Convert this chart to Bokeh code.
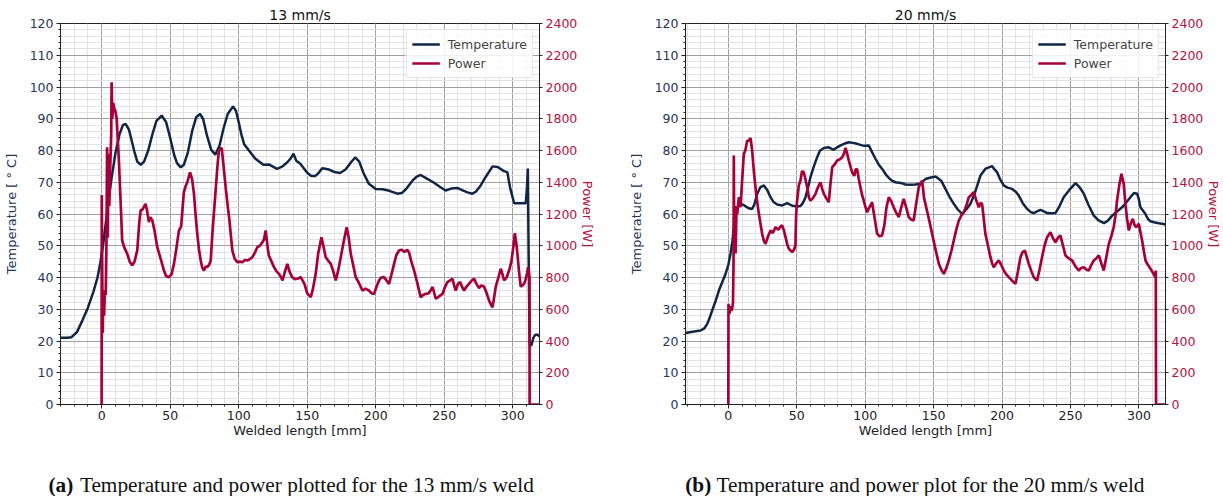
from bokeh.plotting import figure
from bokeh.models import Range1d, LinearAxis, SingleIntervalTicker
from bokeh.layouts import row, column
from bokeh.core.properties import value
from bokeh.embed import file_html
from bokeh.resources import INLINE

# ---------------- data ----------------
titles = ["13 mm/s", "20 mm/s"]
cap_tags = ["(a)", "(b)"]
cap_texts = ["Temperature and power plotted for the 13 mm/s weld",
             "Temperature and power plot for the 20 mm/s weld"]

temp_13 = [(-30,21),(-25,21),(-22,21.2),(-18,22.8),(-14,26.5),(-10,30.5),(-6,35.5),(-3,40),(-1,44.5),(1,50),
           (3,57),(5,64),(7,70.5),(10,79),(13,85),(15.5,88),(17.5,88.4),(20,86.5),(22,83),(24,79.5),(26,76.5),
           (28.5,75.5),(31,76.5),(34,80),(37,85),(40,89.3),(43.8,91),(47,89),(50,84),(53,78.5),(55,76),(57.7,74.7),
           (60,75.5),(63,79.5),(66,86),(69,90.5),(71.8,91.5),(74,90),(77,84.5),(80,80.2),(83,78.7),(86,81.5),
           (89,87),(92,91.5),(95.9,93.9),(98,92.5),(100,89),(102,85),(104,82),(107.5,80),(112,77.5),(118,75.5),
           (122,75.6),(128,74.2),(132,75),(135.5,76.3),(138,77.5),(140,79),(142,76.8),(145,75.8),(150,73),
           (153,72),(156,72),(158,72.8),(161,74.4),(166,74),(170,73.2),(174,72.9),(178,74),(182,76.3),(185,77.8),
           (188,76.5),(191,73),(195,69.5),(200,67.9),(205,67.8),(210,67.3),(215.8,66.4),(219,66.6),(222,67.8),
           (226.8,70.5),(230,71.8),(232.8,72.3),(237,71.2),(242,70),(247,68.5),(251,67.4),(255,68),(259.6,68.2),
           (263,67.5),(267,66.8),(270.5,66.4),(273,67),(276.6,69),(280,71.5),(283,73.5),(285.2,75),(289,74.8),
           (293.5,73.5),(296,73.2),(298,68.4),(301,63.4),(304,63.4),(307,63.4),(309.5,63.4),(310.3,68),(311,74.3),
           (311.5,50),(312.3,19),(313.5,18.5),(315,21),(316.5,22),(318,22),(319.5,21.5)]

power_13 = [(0,0),(0.1,1320),(0.4,900),(0.8,450),(1.2,700),(1.8,560),(2.4,720),(3,690),(3.5,1000),(4,1620),
            (4.5,1050),(5,1580),(5.6,1250),(6.3,1500),(7,1700),(7.3,2030),(7.8,1800),(8.5,1900),(9.3,1860),
            (10,1850),(11,1800),(12.6,1537),(14,1250),(15,1033),(16.5,990),(18.7,949),(20.5,900),(22.4,876),
            (24,900),(26,970),(27.5,1150),(28.5,1222),(30,1230),(32,1264),(33,1230),(34.5,1149),(35.5,1180),
            (37,1159),(38.5,1100),(40.6,991),(43,920),(45.5,844),(47,810),(49,802),(51,820),(52.8,886),(54.5,980),
            (56.4,1096),(58,1120),(60,1337),(61.5,1380),(62.5,1400),(64.5,1463),(66,1420),(67.4,1327),(68.5,1200),
            (69.8,1075),(71,980),(72.3,907),(73.5,860),(74.7,844),(76,870),(77,865),(78.5,880),(79.6,907),
            (81,1100),(83,1327),(84.5,1500),(85.6,1600),(87.6,1617),(89,1500),(90.5,1369),(92,1250),(93,1180),
            (95.4,970),(97,920),(99,896),(101,900),(102.7,896),(104.5,910),(106.3,907),(108,915),(110,928),
            (112,960),(113.6,991),(115.5,1000),(117.3,1022),(118.5,1040),(119.7,1096),(121,1000),(122,939),
            (124,900),(125.8,865),(127.5,840),(129.4,823),(131,800),(132,781),(133.5,830),(135.5,886),(137,840),
            (139,802),(141,790),(142.8,792),(145.3,802),(148,760),(150,700),(152.6,676),(154,720),(156.2,823),
            (158,950),(160.4,1054),(162,990),(163.5,928),(165,910),(167.2,886),(169,840),(170.8,781),(172.5,840),
            (174.5,928),(176.5,1020),(178.8,1117),(180.3,1050),(181.8,949),(183.5,880),(185.4,802),(187.5,770),
            (190.3,718),(192.5,730),(195,718),(197,700),(198.8,697),(200.5,740),(202.4,781),(204,800),(206,802),
            (208,780),(209.7,760),(211.5,820),(213.4,886),(215,940),(217,970),(219,975),(221,960),(223,975),
            (224.3,958),(226,900),(228,844),(230.5,760),(232.8,676),(234.5,690),(236.5,697),(238.5,700),(240,718),
            (241.5,740),(243.8,666),(246,680),(248.7,697),(250.5,740),(252.3,771),(254,780),(256,792),(257.5,740),
            (258.4,718),(260,760),(261.6,771),(263,740),(264.5,718),(266,740),(268,760),(270,780),(271.8,792),
            (273.5,760),(275.4,733),(277,750),(279,743),(281,700),(282.7,655),(284,630),(285.2,613),(286.5,680),
            (287.6,743),(289.5,800),(291.2,855),(292.5,820),(293.7,781),(295.5,800),(297.3,844),(299,900),
            (300.5,1000),(301.5,1079),(302.5,1020),(303.4,949),(304.5,840),(305.8,743),(307,750),(308.2,760),
            (309.5,790),(310.5,830),(311.2,865),(311.8,830),(312.2,802),(312.3,0),(319.5,0)]

temp_20 = [(-31.3,22.5),(-25,23),(-20.3,23.3),(-17.5,24),(-15.4,25.4),(-13.5,27.5),(-11.8,29.6),(-9,33),
           (-6.9,35.9),(-4.5,38.5),(-2,41.2),(0,44),(1.6,47.5),(3,51.5),(4,55.8),(5,59),(6.5,62.1),(8,62.8),
           (10.1,63),(12,62.6),(13.8,62.1),(15.5,61.7),(17.4,61.6),(19,63),(21.1,66.4),(23.5,68.5),(26,69),
           (28.5,67.5),(30.8,65.3),(33,63.8),(35.7,63),(39.4,62.7),(43,63.4),(46.7,62.6),(50,62.4),(52.7,62.5),
           (54.5,63.5),(56.4,65.3),(58,68),(60,71.6),(62.5,75),(64.9,77.9),(67,80),(69.8,80.8),(73.4,81),(77,80.2),
           (79.5,81),(82,81.6),(85,82.2),(88,82.6),(91,82.4),(94.1,82.1),(97.8,81.6),(100,81.5),(102.6,81.6),
           (105,79.5),(107.5,77.4),(110,75.5),(112.4,74.2),(115,72.5),(117.2,71.4),(119.5,70.5),(122.1,70),
           (126,69.8),(129.4,69.3),(133,69.2),(136.7,69.3),(140,69.5),(144,71),(148,71.5),(151.5,71.8),
           (155.5,70.5),(158.6,67.9),(161.5,65.5),(164.7,63.2),(167.5,61.5),(170.8,60),(174,61.5),(176.9,63.2),
           (180,66.5),(184.2,72.1),(188,74.3),(192.7,75.1),(194,74.3),(196.3,73.2),(198.5,71),(201.2,69),
           (204,68.3),(207.3,67.9),(210,67),(212.2,65.8),(215,63.5),(218.3,61.6),(221,60.6),(223.2,60.3),
           (225.5,60.8),(228,61.3),(230.5,60.8),(232.9,60.3),(236,60.2),(239,60.3),(242,62.5),(245,65.3),
           (249,67.5),(253.7,69.7),(256.5,68.5),(259.7,66.4),(263,63),(267,59.5),(270.5,58),(274.5,57.1),
           (277.5,58),(280.4,59.5),(284,60.8),(287.7,62.1),(291,63.8),(293.8,65.3),(296.4,66.6),(298.7,66.4),
           (300,64.5),(301.1,62.1),(303,61),(304.7,60),(306.5,58.5),(308.4,57.7),(311,57.4),(314.5,57.1),
           (317,56.9),(319.4,56.7)]

power_20 = [(0,0),(0.1,634),(0.8,571),(1.5,620),(2.2,590),(2.8,605),(3.4,640),(3.8,900),(4,1568),(4.3,1000),
            (4.8,1250),(5.3,951),(6,1243),(6.5,1200),(7.7,1306),(8.9,1243),(10,1400),(11.3,1579),(12.4,1600),
            (13.8,1663),(15,1660),(16.2,1680),(17.4,1600),(18.6,1474),(20.3,1327),(22.3,1201),(24.7,1075),
            (26,1030),(27.2,1012),(29,1060),(30.8,1096),(32.5,1080),(34.5,1117),(36.5,1100),(38,1120),(39.3,1128),
            (40.5,1100),(41.8,1054),(43,1010),(44.2,981),(46.6,960),(48,975),(49,1002),(49.5,1180),(50,1264),
            (51.5,1380),(52.7,1411),(53.8,1470),(55.1,1463),(56.3,1420),(57.6,1369),(59,1300),(60,1285),
            (61.8,1300),(63.7,1327),(65.5,1370),(67.3,1400),(68.5,1360),(69.8,1327),(71.5,1300),(73.4,1274),
            (74.5,1380),(75.9,1495),(77.5,1510),(79.5,1537),(81.5,1545),(83.2,1558),(84.5,1580),(85.6,1617),
            (86.8,1580),(88,1537),(89.2,1500),(90.4,1463),(92,1440),(93,1480),(94.1,1484),(95.3,1420),(96.5,1369),
            (97.7,1320),(98.9,1285),(100,1250),(101.4,1211),(103,1240),(105,1274),(106.8,1180),(108.7,1075),
            (110.5,1060),(112.3,1065),(114,1130),(115.5,1240),(117.2,1306),(119,1280),(120.8,1243),(122.5,1210),
            (124.5,1180),(126.3,1240),(128.1,1296),(130,1240),(131.8,1180),(133.5,1165),(135.4,1159),(137,1250),
            (139.1,1369),(141.6,1411),(143,1300),(144,1264),(146.5,1170),(148.9,1075),(151.3,980),(153.8,886),
            (155.5,850),(157.4,823),(159.3,860),(161.1,907),(163,970),(164.7,1033),(166.5,1100),(168.4,1159),
            (170.2,1190),(172,1211),(173.8,1250),(175.7,1306),(177.5,1320),(179.3,1337),(181,1290),(183,1243),
            (184.2,1270),(185.4,1264),(186.6,1170),(187.8,1075),(189.7,1000),(191.5,928),(192.7,890),(193.9,865),
            (195.8,890),(197.6,907),(199.4,880),(201.2,844),(203,820),(204.9,802),(207.3,780),(209.8,760),
            (211.6,840),(213.4,928),(215,960),(216.6,970),(218,930),(219.5,886),(221.4,840),(223.2,802),
            (225.6,781),(227.4,850),(229.2,928),(231,1000),(232.9,1054),(235.3,1085),(237,1050),(239,1022),
            (240.8,1050),(242.6,1065),(244.5,1000),(246.3,939),(248.8,920),(251.2,907),(253.6,870),(256,844),
            (257.8,860),(259.7,865),(261.5,850),(263.4,844),(265.2,880),(267,907),(268.8,920),(270.7,939),
            (272.5,890),(274.3,844),(276.2,930),(278,1012),(279.8,1060),(281.6,1117),(283,1200),(284,1285),
            (285.6,1380),(287.2,1453),(288.9,1390),(290.1,1264),(291.3,1170),(292.6,1096),(294,1140),(295.5,1170),
            (296.8,1130),(298,1117),(299.9,1138),(301,1090),(302.3,1033),(303.5,970),(304.8,907),(306.5,880),
            (308.4,855),(310.2,830),(311.5,810),(312.1,802),(312.3,844),(312.5,0),(319.5,0)]

x_limits = [(-30, 319.5), (-31.3, 319.4)]
temp_limits = (0, 120)
power_limits = (0, 2400)

# ---------------- styling ----------------
TEMP_C = "#0f2645"
POWER_C = "#a6003a"
TEMP_TXT = "#24365a"
POWER_TXT = "#b3123f"
FONT = "DejaVu Sans"
SERIF = "Liberation Serif"


def panel(i, temp_pts, power_pts, fw, bl, br):
    p = figure(frame_width=fw, frame_height=381, x_range=Range1d(*x_limits[i]), y_range=Range1d(*temp_limits),
               output_backend="svg", toolbar_location=None,
               min_border_left=bl, min_border_right=br, min_border_top=23, min_border_bottom=41)
    p.extra_y_ranges = {"power": Range1d(*power_limits)}
    p.background_fill_color = "white"
    p.border_fill_color = "white"
    p.outline_line_color = "#222222"
    p.outline_line_width = 1

    p.title.text = titles[i]
    p.title.align = "center"
    p.title.text_font = FONT
    p.title.text_font_size = "14px"
    p.title.text_font_style = "normal"
    p.title.text_color = "#111111"
    p.title.standoff = 2

    p.xaxis.ticker = SingleIntervalTicker(interval=50, num_minor_ticks=5)
    p.yaxis.ticker = SingleIntervalTicker(interval=10, num_minor_ticks=5)
    p.xaxis.axis_label = "Welded length [mm]"
    p.yaxis.axis_label = "Temperature [ ° C]"
    for ax in (p.xaxis[0], p.yaxis[0]):
        ax.major_label_text_font = FONT
        ax.major_label_text_font_size = "12.5px"
        ax.axis_label_text_font = FONT
        ax.axis_label_text_font_size = "13px"
        ax.axis_label_text_font_style = "normal"
        ax.axis_line_color = "#222222"
        ax.major_tick_line_color = "#222222"
        ax.minor_tick_line_color = "#222222"
        ax.major_tick_out = 4
        ax.major_tick_in = 0
        ax.minor_tick_out = 2
        ax.minor_tick_in = 0
        ax.major_label_standoff = 3
    p.xaxis.major_label_text_color = "#222222"
    p.xaxis.axis_label_text_color = "#222222"
    p.xaxis.major_label_standoff = 2
    p.xaxis.axis_label_standoff = 0
    p.yaxis.major_label_text_color = TEMP_TXT
    p.yaxis.axis_label_text_color = TEMP_TXT
    p.yaxis.axis_label_standoff = 8

    rax = LinearAxis(y_range_name="power", ticker=SingleIntervalTicker(interval=200, num_minor_ticks=0),
                     axis_label="Power [W]")
    rax.major_label_text_font = FONT
    rax.major_label_text_font_size = "12.5px"
    rax.major_label_text_color = POWER_TXT
    rax.axis_label_text_font = FONT
    rax.axis_label_text_font_size = "13px"
    rax.axis_label_text_font_style = "normal"
    rax.axis_label_text_color = POWER_TXT
    rax.axis_line_color = "#222222"
    rax.major_tick_line_color = "#222222"
    rax.major_tick_out = 3
    rax.major_tick_in = 0
    rax.minor_tick_line_color = None
    rax.major_label_standoff = 3
    rax.axis_label_standoff = 0
    p.add_layout(rax, "right")

    p.xgrid.grid_line_color = "#a0a0a0"
    p.ygrid.grid_line_color = "#a0a0a0"
    p.xgrid.minor_grid_line_color = "#e2e2e2"
    p.ygrid.minor_grid_line_color = "#e2e2e2"

    tx = [a for a, b in temp_pts]
    ty = [b for a, b in temp_pts]
    px = [a for a, b in power_pts]
    py = [b for a, b in power_pts]
    p.line(tx, ty, line_color=TEMP_C, line_width=2.5, legend_label="Temperature")
    p.line(px, py, line_color=POWER_C, line_width=2.7, y_range_name="power", legend_label="Power")

    lg = p.legend[0]
    lg.location = "top_right"
    lg.margin = 6
    lg.padding = 5
    lg.spacing = 1
    lg.label_text_font = FONT
    lg.label_text_font_size = "12.5px"
    lg.label_height = 18
    lg.glyph_height = 18
    lg.glyph_width = 28
    lg.label_standoff = 8
    lg.border_line_color = "#cccccc"
    lg.background_fill_alpha = 0.85
    return p


p1 = panel(0, temp_13, power_13, 479, 52, 86)
p2 = panel(1, temp_20, power_20, 480, 58, 52)

# caption strip
cap = figure(width=1207, height=51, x_range=Range1d(0, 1207), y_range=Range1d(0, 51),
             output_backend="svg", toolbar_location=None, min_border=0)
cap.axis.visible = False
cap.grid.visible = False
cap.outline_line_color = None
cap_tag_x = [48, 684.7]
cap_text_x = [79.4, 716.1]
cap_y = [12, 12]
cap.text(x=cap_tag_x, y=cap_y, text=cap_tags, text_font=value(SERIF), text_font_style="bold",
         text_font_size="21.3px", text_baseline="middle", text_color="#111111")
cap.text(x=cap_text_x, y=cap_y, text=cap_texts, text_font=value(SERIF), text_font_style="normal",
         text_font_size="21.3px", text_baseline="middle", text_color="#111111")

layout = column(row(p1, p2), cap)

open("out.html", "w").write(file_html(layout, INLINE))
